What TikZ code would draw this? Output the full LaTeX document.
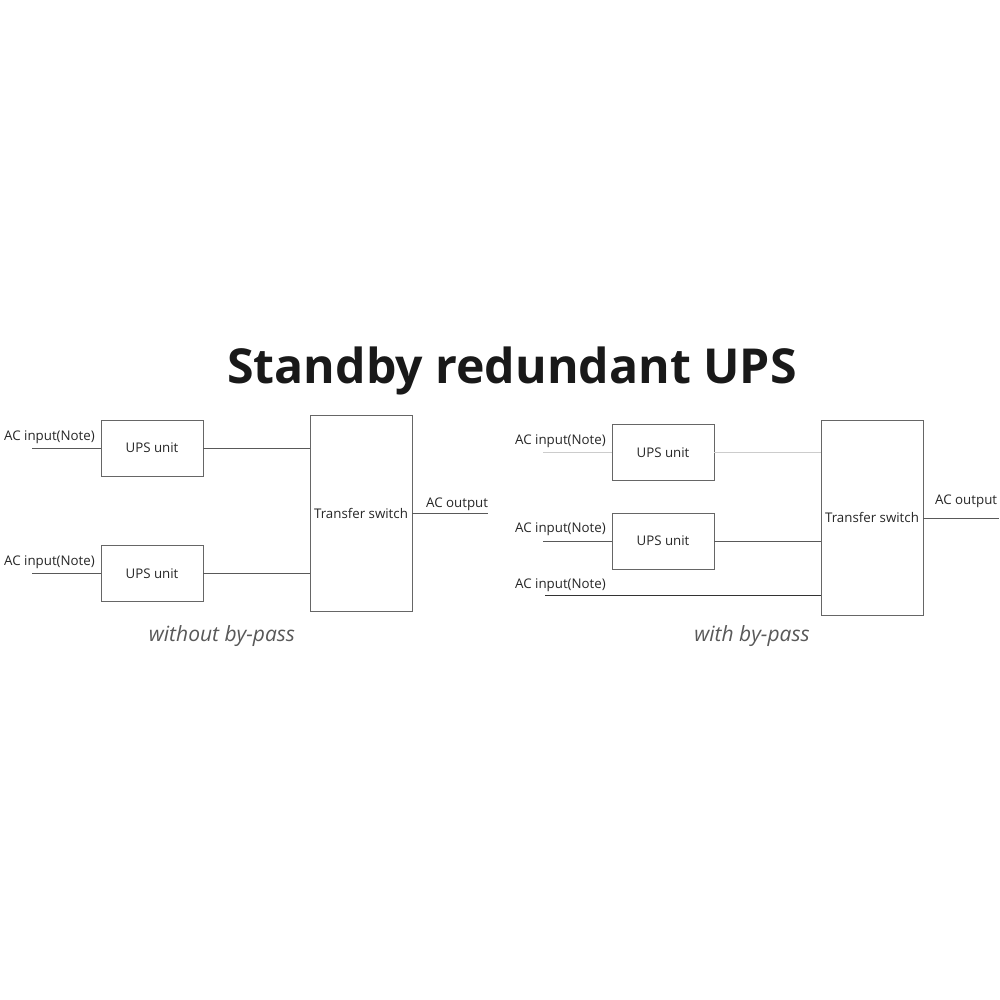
\documentclass[tikz,border=0pt]{standalone}
\usepackage{fontspec}
\setmainfont{Open Sans}
\begin{document}
\begin{tikzpicture}[x=1pt,y=-1pt,
  box/.style={draw=black!60,line width=0.9pt,inner sep=0pt,minimum width=102pt,minimum height=56pt,font=\fontsize{13.3}{15}\selectfont,text=black!85},
  tsbox/.style={box,minimum height=196pt},
  lbl/.style={font=\fontsize{13.3}{15}\selectfont,text=black!85,inner sep=0pt,anchor=base west},
  wire/.style={draw=black!65,line width=0.9pt},
  lwire/.style={draw=black!20,line width=0.9pt},
  captxt/.style={font=\fontsize{21}{24}\selectfont\itshape,text=black!65,inner sep=0pt,anchor=base}]
\useasboundingbox (0,0) rectangle (1000,1000);
\fill[white] (0,0) rectangle (1000,1000);
% title
\node[font=\fontsize{48.2}{56}\selectfont\bfseries,text=black!90,inner sep=0pt,anchor=base] (title) at (512,383) {Standby redundant UPS};
% left diagram
\node[box] (lu1) at (152,448) {UPS unit};
\node[box] (lu2) at (152,573.5) {UPS unit};
\node[tsbox] (lts) at (361,513) {Transfer switch};
\coordinate (lin1) at (32,448);
\coordinate (lin2) at (32,573.5);
\coordinate (lout) at (488,513);
\node[lbl] (lt1) at (4,440) {AC input(Note)};
\node[lbl] (lt2) at (4,565.5) {AC input(Note)};
\node[lbl] (lto) at (426,507.5) {AC output};
\draw[wire] (lin1) -- (lu1.west);
\draw[wire] (lin2) -- (lu2.west);
\draw[wire] (lu1.east) -- (lts.west |- lu1.east);
\draw[wire] (lu2.east) -- (lts.west |- lu2.east);
\draw[wire] (lts.east |- lout) -- (lout);
\node[captxt] (lcap) at (222,641) {without by-pass};
% right diagram
\node[box] (ru1) at (663,452.5) {UPS unit};
\node[box] (ru2) at (663,541) {UPS unit};
\node[box,minimum height=195pt] (rts) at (872,517.5) {Transfer switch};
\coordinate (rin1) at (543,452.5);
\coordinate (rin2) at (543,541);
\coordinate (rin3) at (545,595);
\coordinate (rout) at (999,518);
\node[lbl] (rt1) at (515,444) {AC input(Note)};
\node[lbl] (rt2) at (515,532.5) {AC input(Note)};
\node[lbl] (rt3) at (515,588) {AC input(Note)};
\node[lbl] (rto) at (935,504.5) {AC output};
\draw[lwire] (rin1) -- (ru1.west);
\draw[lwire] (ru1.east) -- (rts.west |- ru1.east);
\draw[wire] (rin2) -- (ru2.west);
\draw[wire] (ru2.east) -- (rts.west |- ru2.east);
\draw[wire,draw=black!80] (rin3) -- (rts.west |- rin3);
\draw[wire] (rts.east |- rout) -- (rout);
\node[captxt] (rcap) at (752,641) {with by-pass};
\end{tikzpicture}
\end{document}
